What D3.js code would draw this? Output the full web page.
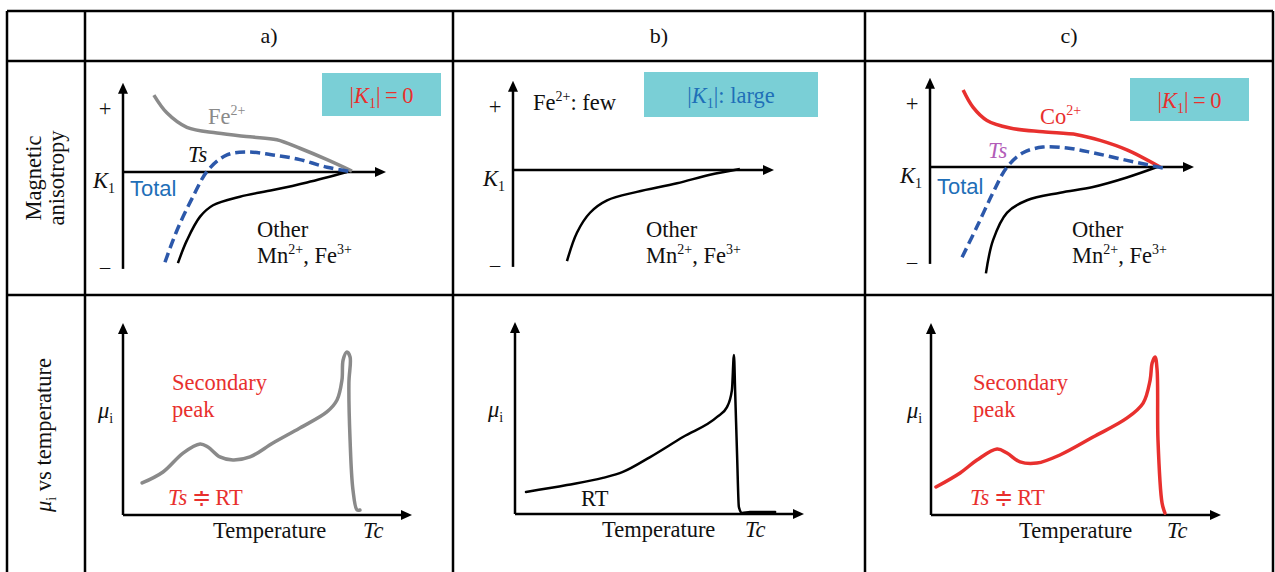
<!DOCTYPE html>
<html>
<head>
<meta charset="utf-8">
<script src="https://cdn.jsdelivr.net/npm/d3@7"></script>
<style>
  body { margin: 0; background: #fff; }
  text { font-family: "Liberation Serif", "Times New Roman", serif; font-size: 22.5px; fill: #111; }
  .sans { font-family: "Liberation Sans", Arial, sans-serif; font-size: 22px; }
</style>
</head>
<body>
<svg id="fig" width="1275" height="572"></svg>
<script>
// Column headings
const colLabels = ['a)', 'b)', 'c)'];

// Top row: K1 against temperature (T from 0 to 100, K1 from -1 to 1)
const fe2A   = [[11.7,0.81],[16.7,0.62],[24.2,0.47],[35.6,0.41],[48.1,0.37],[58.3,0.34],[67.0,0.25],[77.3,0.13],[86.7,0.01]];
const totalA = [[15.9,-0.95],[20.5,-0.61],[26.5,-0.26],[32.2,0.02],[39.4,0.18],[47.0,0.21],[56.8,0.18],[67.0,0.13],[77.3,0.05],[87.1,0]];
const otherA = [[20.8,-0.96],[24.2,-0.72],[29.2,-0.47],[34.1,-0.35],[44.3,-0.26],[56.8,-0.19],[69.7,-0.11],[84.8,0]];
const otherB = [[20.6,-0.96],[24.4,-0.66],[29.4,-0.45],[35.9,-0.32],[47.3,-0.23],[62.6,-0.14],[75.2,-0.05],[86.6,0.01]];
const co2C   = [[12.5,0.81],[16.2,0.63],[21.5,0.49],[30.2,0.41],[42.6,0.37],[55.5,0.34],[64.2,0.28],[74.3,0.18],[86.8,0]];
const totalC = [[12.1,-0.95],[17.7,-0.63],[23.8,-0.27],[29.1,0],[35.1,0.15],[42.6,0.21],[51.7,0.2],[61.5,0.15],[74.3,0.07],[87.9,-0.01]];
const otherC = [[21.1,-1.12],[23.8,-0.77],[29.1,-0.48],[36.6,-0.35],[49.1,-0.27],[61.5,-0.21],[74.3,-0.11],[85.7,0]];

// Bottom row: initial permeability against temperature (T from 0 to 100, mu from 0 to 1)
const muA = [[6.6,0.166],[13.8,0.223],[20.7,0.321],[26.6,0.368],[29.3,0.352],[33.4,0.301],[37.9,0.285],[43.8,0.301],
             [51.7,0.373],[61.0,0.451],[70.3,0.534],[73.8,0.596],[75.5,0.699],[75.9,0.803],[77.2,0.845],[78.3,0.819],
             [77.9,0.684],[78.3,0.389],[79.3,0.130],[80.7,0.026],[81.7,0.026]];
const muB = [[3.8,0.114],[17.9,0.150],[30.3,0.187],[37.2,0.218],[46.6,0.295],[57.9,0.399],[69.7,0.503],[73.1,0.554],
             [74.8,0.642],[75.5,0.824],[75.9,0.642],[76.6,0.295],[77.2,0.036],[78.3,0.005],[81.0,0.01],[89.7,0.01]];
const muC = [[1.7,0.145],[10.0,0.218],[15.8,0.285],[22.7,0.342],[26.1,0.321],[30.6,0.275],[36.4,0.269],[44.3,0.311],
             [55.7,0.404],[67.4,0.503],[72.9,0.580],[75.3,0.699],[76.0,0.788],[77.0,0.819],[77.7,0.751],[78.0,0.389],
             [79.4,0.062],[80.4,0.010]];

const RED = '#e8302e', BLUE = '#1f6fb8', DASH = '#2c58aa', GREY = '#8a8a8a', TEAL = '#7acfd6', PURPLE = '#b25db8';

const svg = d3.select('#fig');

// Arrow head for the axes
svg.append('defs').append('marker')
  .attr('id', 'arr')
  .attr('viewBox', '0 0 11 10')
  .attr('refX', 4).attr('refY', 5)
  .attr('markerWidth', 11).attr('markerHeight', 10)
  .attr('markerUnits', 'userSpaceOnUse')
  .attr('orient', 'auto')
  .append('path').attr('d', 'M0,0 L11,5 L0,10 Z').attr('fill', '#000');

// Text with superscripts, subscripts and italics
function rich(g, x, y, parts) {
  const t = g.append('text').attr('x', x).attr('y', y);
  let shift = 0;
  parts.forEach(([s, k]) => {
    const target = k === 'sup' ? -9 : k === 'sub' ? 5 : 0;
    const ts = t.append('tspan').text(s).attr('dy', target - shift);
    shift = target;
    if (k === 'sup' || k === 'sub') ts.style('font-size', '14px');
    if (k === 'i') ts.style('font-style', 'italic');
  });
  return t;
}

// Table grid
const colX = [7, 85, 453, 865, 1273];
const rowY = [11, 61, 295, 580];
const grid = svg.append('g').attr('stroke', '#000').attr('stroke-width', 2.5);
colX.forEach((x) => grid.append('line').attr('x1', x).attr('x2', x).attr('y1', rowY[0]).attr('y2', rowY[3]));
rowY.slice(0, 3).forEach((y) => grid.append('line').attr('x1', colX[0]).attr('x2', colX[4]).attr('y1', y).attr('y2', y));

colLabels.forEach((c, i) => {
  svg.append('text')
    .attr('x', (colX[i + 1] + colX[i + 2]) / 2)
    .attr('y', 43)
    .attr('text-anchor', 'middle')
    .style('font-size', '22px')
    .text(c);
});

// Row labels (rotated)
const rowLab1 = svg.append('g').attr('transform', 'translate(0,178)');
rowLab1.append('text').attr('transform', 'translate(41,0) rotate(-90)').attr('text-anchor', 'middle').text('Magnetic');
rowLab1.append('text').attr('transform', 'translate(64,0) rotate(-90)').attr('text-anchor', 'middle').text('anisotropy');
const rowLab2 = svg.append('g').attr('transform', 'translate(51,435) rotate(-90)');
rich(rowLab2, 0, 0, [['μ', 'i'], ['i', 'sub'], [' vs temperature']]).attr('text-anchor', 'middle');

// One K1 panel
function topPanel(ox, oy, w, curves, labels, box) {
  const x = d3.scaleLinear().domain([0, 100]).range([ox, ox + w]);
  const y = d3.scaleLinear().domain([-1, 1]).range([oy + 95, oy - 95]);
  const g = svg.append('g');

  g.append('line').attr('x1', x(0)).attr('x2', x(0)).attr('y1', y(-1.02)).attr('y2', y(0.95) + 8)
    .attr('stroke', '#000').attr('stroke-width', 2.5).attr('marker-end', 'url(#arr)');
  g.append('line').attr('x1', x(0)).attr('x2', x(100) - 8).attr('y1', y(0)).attr('y2', y(0))
    .attr('stroke', '#000').attr('stroke-width', 2.5).attr('marker-end', 'url(#arr)');

  g.append('text').attr('x', x(0) - 18).attr('y', y(0) - 56).attr('text-anchor', 'middle').text('+');
  g.append('text').attr('x', x(0) - 18).attr('y', y(0) + 104).attr('text-anchor', 'middle').text('−');
  rich(g, x(0) - 8, y(0) + 16, [['K', 'i'], ['1', 'sub']]).attr('text-anchor', 'end');

  const line = d3.line().x((d) => x(d[0])).y((d) => y(d[1])).curve(d3.curveCatmullRom.alpha(0.5));
  curves.forEach((c) => {
    g.append('path').attr('d', line(c.data)).attr('fill', 'none')
      .attr('stroke', c.color).attr('stroke-width', c.width)
      .attr('stroke-dasharray', c.dash || null);
  });

  g.append('rect').attr('x', ox + box.dx).attr('y', oy + box.dy).attr('width', box.w).attr('height', box.h)
    .attr('fill', TEAL);
  rich(g, ox + box.dx + box.w / 2, oy + box.dy + box.h / 2 + 8, box.parts)
    .attr('text-anchor', 'middle').style('fill', box.color);

  labels.forEach((l) => {
    const t = rich(g, ox + l.dx, oy + l.dy, l.parts).style('fill', l.color || '#111');
    if (l.cls) t.attr('class', l.cls);
  });
}

// One permeability panel
function bottomPanel(ox, oy, w, data, color, curve, labels) {
  const x = d3.scaleLinear().domain([0, 100]).range([ox, ox + w]);
  const y = d3.scaleLinear().domain([0, 1]).range([oy, oy - 193]);
  const g = svg.append('g');

  g.append('line').attr('x1', x(0)).attr('x2', x(0)).attr('y1', y(0)).attr('y2', y(1) + 8)
    .attr('stroke', '#000').attr('stroke-width', 2.5).attr('marker-end', 'url(#arr)');
  g.append('line').attr('x1', x(0)).attr('x2', x(100) - 8).attr('y1', y(0)).attr('y2', y(0))
    .attr('stroke', '#000').attr('stroke-width', 2.5).attr('marker-end', 'url(#arr)');

  const line = d3.line().x((d) => x(d[0])).y((d) => y(d[1])).curve(curve);
  g.append('path').attr('d', line(data)).attr('fill', 'none')
    .attr('stroke', color).attr('stroke-width', color === '#000' ? 2.5 : 3.5)
    .attr('stroke-linecap', 'round');

  labels.forEach((l) => rich(g, ox + l.dx, oy + l.dy, l.parts).style('fill', l.color || '#111'));
}

const otherLabel = (dx, dy) => [
  { dx: dx, dy: dy, parts: [['Other']] },
  { dx: dx, dy: dy + 26, parts: [['Mn'], ['2+', 'sup'], [', Fe'], ['3+', 'sup']] },
];
const k0 = [['|'], ['K', 'i'], ['1', 'sub'], ['|'], ['\u2009=\u20090']];

topPanel(123, 172, 264,
  [{ data: fe2A, color: GREY, width: 3.5 },
   { data: otherA, color: '#000', width: 2.5 },
   { data: totalA, color: DASH, width: 3.5, dash: '10,5' }],
  [{ dx: 85, dy: -48, parts: [['Fe'], ['2+', 'sup']], color: GREY },
   { dx: 65, dy: -10, parts: [['Ts', 'i']] },
   { dx: 7, dy: 24, parts: [['Total']], color: BLUE, cls: 'sans' },
   ...otherLabel(134, 65)],
  { dx: 199, dy: -99, w: 119, h: 43, parts: k0, color: RED });

topPanel(513, 170, 262,
  [{ data: otherB, color: '#000', width: 2.5 }],
  [{ dx: 20, dy: -60, parts: [['Fe'], ['2+', 'sup'], [': few']] },
   ...otherLabel(133, 67)],
  { dx: 131, dy: -98, w: 174, h: 45, parts: [['|'], ['K', 'i'], ['1', 'sub'], ['|: large']], color: BLUE });

topPanel(930, 167, 265,
  [{ data: co2C, color: RED, width: 3.5 },
   { data: otherC, color: '#000', width: 2.5 },
   { data: totalC, color: DASH, width: 3.5, dash: '10,5' }],
  [{ dx: 110, dy: -43, parts: [['Co'], ['2+', 'sup']], color: RED },
   { dx: 58, dy: -9, parts: [['Ts', 'i']], color: PURPLE },
   { dx: 7, dy: 27, parts: [['Total']], color: BLUE, cls: 'sans' },
   ...otherLabel(142, 70)],
  { dx: 200, dy: -89, w: 119, h: 43, parts: k0, color: RED });

const muLabel = (dx) => ({ dx: dx, dy: -97, parts: [['μ', 'i'], ['i', 'sub']] });
const tempLabels = (dx1, dx2) => [
  { dx: dx1, dy: 23, parts: [['Temperature']] },
  { dx: dx2, dy: 23, parts: [['Tc', 'i']] },
];

bottomPanel(123, 515, 290, muA, GREY, d3.curveCatmullRom.alpha(0.5),
  [muLabel(-25),
   { dx: 49, dy: -125, parts: [['Secondary']], color: RED },
   { dx: 49, dy: -98, parts: [['peak']], color: RED },
   { dx: 45, dy: -10, parts: [['Ts', 'i'], ['\u2009≑\u2009RT']], color: RED },
   ...tempLabels(90, 240)]);

bottomPanel(515, 514, 290, muB, '#000', d3.curveMonotoneX,
  [muLabel(-27),
   { dx: 66, dy: -8, parts: [['RT']] },
   ...tempLabels(87, 230)]);

bottomPanel(931, 515, 291, muC, RED, d3.curveCatmullRom.alpha(0.5),
  [muLabel(-24),
   { dx: 42, dy: -125, parts: [['Secondary']], color: RED },
   { dx: 42, dy: -98, parts: [['peak']], color: RED },
   { dx: 39, dy: -10, parts: [['Ts', 'i'], ['\u2009≑\u2009RT']], color: RED },
   ...tempLabels(88, 236)]);
</script>
</body>
</html>
